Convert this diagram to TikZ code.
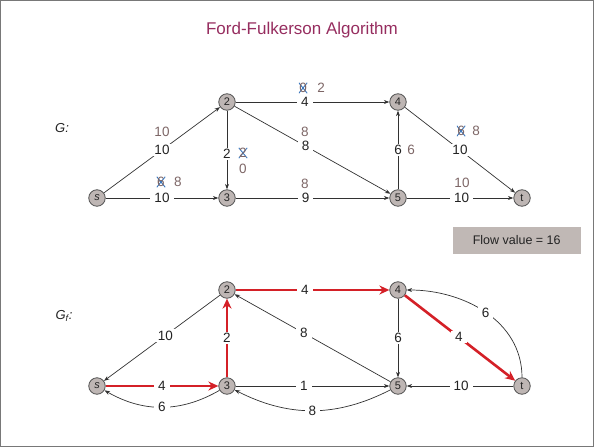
\documentclass[tikz,border=0pt]{standalone}
\usepackage{fontspec}
\setmainfont{Liberation Sans}
\usetikzlibrary{arrows.meta}
\definecolor{titlec}{RGB}{150,45,95}
\definecolor{framec}{RGB}{120,120,120}
\definecolor{nodef}{RGB}{190,182,180}
\definecolor{nodeb}{RGB}{80,80,80}
\definecolor{edgec}{RGB}{50,50,50}
\definecolor{redc}{RGB}{212,32,39}
\definecolor{flowc}{RGB}{125,102,102}
\definecolor{capc}{RGB}{35,35,35}
\definecolor{xc}{RGB}{60,120,190}
\definecolor{boxc}{RGB}{192,184,181}
\begin{document}
\begin{tikzpicture}[x=1pt,y=-1pt,
  vtx/.style={circle, draw=nodeb, fill=nodef, minimum size=16.5pt, inner sep=0pt, line width=0.8pt, font=\fontsize{11}{11}\selectfont, text=capc},
  edge/.style={draw=edgec, line width=0.7pt, -{Stealth[length=5.5pt,width=4pt]}},
  redge/.style={draw=redc, line width=2.6pt, -{Stealth[length=10pt,width=9pt]}},
  lab/.style={fill=white, inner xsep=4pt, inner ysep=1.5pt, text=capc, font=\fontsize{13.5}{13.5}\selectfont},
  flowlab/.style={inner sep=0.5pt, text=flowc, font=\fontsize{13.5}{13.5}\selectfont},
  crossed/.style={flowlab, path picture={\draw[xc, line width=0.9pt]
     (path picture bounding box.north west) -- (path picture bounding box.south east)
     (path picture bounding box.north east) -- (path picture bounding box.south west);}}
]
\useasboundingbox (0,0) rectangle (594,447);
\draw[framec, line width=0.8pt] (0.5,0.5) rectangle (593.5,446.5);

\node[text=titlec, font=\fontsize{17}{17}\selectfont] (title) at (302,30) {Ford-Fulkerson Algorithm};
\node[text=capc, font=\fontsize{13}{13}\selectfont\itshape] (gl) at (62,128) {G:};
\node[text=capc, font=\fontsize{13}{13}\selectfont\itshape] (gfl) at (64,316) {G\textsubscript{f}:};
\node[fill=boxc, minimum width=128pt, minimum height=27.5pt, inner sep=0pt, text=capc, font=\fontsize{12.5}{12.5}\selectfont] (fv) at (516.7,240.5) {Flow value = 16};

% top graph
\node[vtx] (s1) at (97,198) {\itshape s};
\node[vtx] (a2) at (227,102) {2};
\node[vtx] (a3) at (227,198) {3};
\node[vtx] (a4) at (398,102) {4};
\node[vtx] (a5) at (398,198) {5};
\node[vtx] (t1) at (522,198) {t};

\draw[edge] (s1) -- node[lab] (c1) {10} (a2);
\draw[edge] (s1) -- node[lab] (c2) {10} (a3);
\draw[edge] (a2) -- node[lab, pos=0.45] (c3) {4} (a4);
\draw[edge] (a2) -- node[lab, pos=0.55] (c4) {2} (a3);
\draw[edge] (a2) -- node[lab, pos=0.456] (c5) {8} (a5);
\draw[edge] (a3) -- node[lab, pos=0.456] (c6) {9} (a5);
\draw[edge] (a5) -- node[lab] (c7) {6} (a4);
\draw[edge] (a4) -- node[lab, pos=0.5] (c8) {10} (t1);
\draw[edge] (a5) -- node[lab, pos=0.516] (c9) {10} (t1);

\node[flowlab] (f1) at (162,132) {10};
\node[crossed] (f2x) at (161,182) {6};
\node[flowlab] (f2) at (178,182) {8};
\node[crossed] (f3x) at (303,88) {0};
\node[flowlab] (f3) at (321,88) {2};
\node[crossed] (f4x) at (243,153) {2};
\node[flowlab] (f4) at (243,169) {0};
\node[flowlab] (f5) at (305,132) {8};
\node[flowlab] (f6) at (305,184) {8};
\node[flowlab] (f7) at (411,150) {6};
\node[crossed] (f8x) at (461,131) {6};
\node[flowlab] (f8) at (476,131) {8};
\node[flowlab] (f9) at (462,183) {10};

% residual graph
\node[vtx] (s2) at (97,386) {\itshape s};
\node[vtx] (b2) at (227,290) {2};
\node[vtx] (b3) at (227,386) {3};
\node[vtx] (b4) at (398,290) {4};
\node[vtx] (b5) at (398,386) {5};
\node[vtx] (t2) at (522,386) {t};

\draw[edge] (b2) -- node[lab, pos=0.47] (r1) {10} (s2);
\draw[edge] (b5) -- node[lab, pos=0.556] (r2) {8} (b2);
\draw[edge] (b3) -- node[lab, pos=0.444] (r3) {1} (b5);
\draw[edge] (b4) -- node[lab] (r4) {6} (b5);
\draw[edge] (t2) -- node[lab, pos=0.49] (r5) {10} (b5);
\draw[edge] (b3) to[bend left=30] node[lab] (r6) {6} (s2);
\draw[edge] (b5) to[bend left=27] node[lab] (r7) {8} (b3);
\draw[edge] (t2) to[out=90, in=0] node[lab] (r8) {6} (b4);

\draw[redge] (s2) -- node[lab] (p1) {4} (b3);
\draw[redge] (b3) -- node[lab] (p2) {2} (b2);
\draw[redge] (b2) -- node[lab, pos=0.45] (p3) {4} (b4);
\draw[redge] (b4) -- node[lab, pos=0.49] (p4) {4} (t2);
\end{tikzpicture}
\end{document}
